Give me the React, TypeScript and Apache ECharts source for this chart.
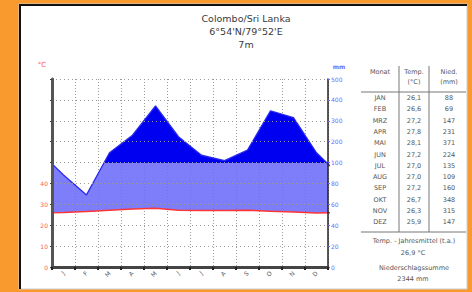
import React, { useEffect, useRef } from "react";
import * as echarts from "echarts";

const monthLetters = ["J", "F", "M", "A", "M", "J", "J", "A", "S", "O", "N", "D"];
const monthNames = ["JAN", "FEB", "MRZ", "APR", "MAI", "JUN", "JUL", "AUG", "SEP", "OKT", "NOV", "DEZ"];
const temps = [26.1, 26.6, 27.2, 27.8, 28.1, 27.2, 27.0, 27.0, 27.2, 26.7, 26.3, 25.9];
const precip = [88, 69, 147, 231, 371, 224, 135, 109, 160, 348, 315, 147];
const tempTicks = [0, 10, 20, 30, 40];
const precipTicks = [0, 20, 40, 60, 80, 100, 200, 300, 400, 500];
const titleLines = ["Colombo/Sri Lanka", "6°54'N/79°52'E", "7m"];

// Walter-Lieth scale: 10 °C = 20 mm up to 100 mm, above that 10 °C = 100 mm
const toUnit = (mm: number) => (mm <= 100 ? mm / 2 : 50 + (mm - 100) / 10);
const Y_MAX = 90;
const Y_BREAK = 50;

const wrapSeries = (vals: number[]) => {
  const pts: number[][] = [[-0.5, vals[vals.length - 1]]];
  vals.forEach((v, i) => pts.push([i + 0.5, v]));
  pts.push([vals.length + 0.5, vals[0]]);
  return pts;
};

const fmt = (v: number) => v.toFixed(1).replace(".", ",");

export default function App() {
  const ref = useRef<HTMLDivElement>(null);
  useEffect(() => {
    if (!ref.current) return;
    const chart = echarts.init(ref.current, null, { renderer: "svg" });
    const tableFont = "DejaVu Sans";
    const tx = (text: string, x: number, y: number, opts: any = {}) => ({
      type: "text",
      x,
      y,
      z: 20,
      style: {
        text,
        fill: opts.fill || "#555",
        font: `${opts.weight || "normal"} ${opts.size || 6.5}px ${opts.family || tableFont}`,
        textAlign: opts.align || "center",
        textVerticalAlign: "middle",
      },
    });
    const ln = (x1: number, y1: number, x2: number, y2: number, stroke = "#777", w = 1) => ({
      type: "line",
      z: 20,
      shape: { x1, y1, x2, y2 },
      style: { stroke, lineWidth: w },
    });

    const annualMean = temps.reduce((a, b) => a + b, 0) / temps.length;
    const totalPrecip = precip.reduce((a, b) => a + b, 0);

    const tempPts = wrapSeries(temps);
    const precipPts = wrapSeries(precip.map(toUnit));

    const graphics: any[] = [
      { type: "rect", z: -10, shape: { x: 19, y: 4, width: 448, height: 285 }, style: { fill: "#ffffff", stroke: "#cfcfcf", lineWidth: 1 } },
      { type: "line", z: -9, shape: { x1: 20, y1: 4, x2: 20, y2: 289 }, style: { stroke: "#111", lineWidth: 2 } },
      { type: "line", z: -9, shape: { x1: 19, y1: 5, x2: 467, y2: 5 }, style: { stroke: "#111", lineWidth: 2 } },
      ...titleLines.map((t, i) => tx(t, 246, 18 + i * 13, { size: 9.5, family: "DejaVu Sans", fill: "#3a3a3a" })),
      tx("°C", 42, 65, { size: 7, family: "DejaVu Sans", fill: "#ff5a5a" }),
      tx("mm", 339, 66, { size: 6, family: "DejaVu Sans", fill: "#6b6bff", weight: "bold" }),
      tx("Monat", 380, 72),
      tx("Temp.", 414, 72),
      tx("(°C)", 414, 82),
      tx("Nied.", 449, 72),
      tx("(mm)", 449, 82),
      ln(399, 66, 399, 232),
      ln(429, 66, 429, 232),
      ln(361, 92, 466, 92),
      ln(361, 232, 466, 232),
      ...monthNames.flatMap((m, i) => {
        const y = 98 + i * 11.3;
        return [tx(m, 380, y), tx(fmt(temps[i]), 414, y), tx(String(precip[i]), 449, y)];
      }),
      tx("Temp. - Jahresmittel (t.a.)", 414, 241),
      tx(`${fmt(annualMean)} °C`, 413, 253),
      tx("Niederschlagssumme", 414, 268),
      tx(`${totalPrecip} mm`, 413, 279),
    ];

    const renderHumid = (params: any, api: any) => {
      if (params.dataIndex !== 0) return null;
      const top = precipPts.map((p) => api.coord(p));
      const bottom = tempPts.map((p) => api.coord(p)).reverse();
      const yTop = api.coord([0, Y_MAX])[1];
      const yBottom = api.coord([0, 0])[1];
      const off = (Y_MAX - Y_BREAK) / Y_MAX;
      const dark = "#0000f0";
      const light = "rgba(108,108,250,0.88)";
      const cs = params.coordSys;
      return {
        type: "group",
        clipPath: { type: "rect", shape: { x: cs.x, y: cs.y, width: cs.width, height: cs.height } },
        children: [
          {
            type: "polygon",
            shape: { points: top.concat(bottom) },
            style: {
              fill: new echarts.graphic.LinearGradient(
                0, yTop, 0, yBottom,
                [
                  { offset: 0, color: dark },
                  { offset: off, color: dark },
                  { offset: off, color: light },
                  { offset: 1, color: light },
                ],
                true
              ),
              stroke: "none",
            },
          },
        ],
      };
    };

    const option: any = {
      animation: false,
      backgroundColor: "#f99a2f",
      grid: { left: 52, right: 144, top: 79, bottom: 25, containLabel: false },
      xAxis: [
        {
          type: "value",
          min: 0,
          max: 12,
          interval: 1,
          z: 0,
          axisLine: { show: false },
          axisTick: { show: false },
          axisLabel: { show: false },
          splitLine: { show: true, lineStyle: { color: "#9a9a9a", type: [1, 2], width: 1 } },
        },
        {
          type: "category",
          data: monthLetters,
          boundaryGap: true,
          position: "bottom",
          z: 5,
          axisLine: { show: true, lineStyle: { color: "#444", width: 3 } },
          axisTick: { show: true, length: 3, lineStyle: { color: "#222", width: 2 } },
          axisLabel: { rotate: 45, fontSize: 6, color: "#555", margin: 5, fontFamily: "DejaVu Sans" },
          splitLine: { show: false },
        },
      ],
      yAxis: [
        {
          type: "value",
          position: "left",
          min: 0,
          max: Y_MAX,
          interval: 10,
          z: 5,
          axisLine: { show: true, lineStyle: { color: "#555", width: 3 } },
          axisTick: { show: true, length: 2, lineStyle: { color: "#444" } },
          axisLabel: {
            fontSize: 6,
            color: "#ff5a5a",
            margin: 4,
            fontFamily: "DejaVu Sans",
            formatter: (v: number) => (tempTicks.includes(v) ? String(v) : ""),
          },
          splitLine: { show: true, lineStyle: { color: "#9a9a9a", type: [1, 3], width: 1 } },
        },
        {
          type: "value",
          position: "right",
          min: 0,
          max: Y_MAX,
          interval: 10,
          z: 5,
          axisLine: { show: true, lineStyle: { color: "#222", width: 1.5 } },
          axisTick: { show: true, length: 2, lineStyle: { color: "#6b6bff" } },
          axisLabel: {
            fontSize: 6,
            color: "#6b6bff",
            margin: 3,
            fontFamily: "DejaVu Sans",
            formatter: (v: number) => {
              const t = precipTicks.find((p) => Math.abs(toUnit(p) - v) < 1e-6);
              return t === undefined ? "" : String(t);
            },
          },
          splitLine: { show: false },
        },
      ],
      series: [
        {
          type: "custom",
          name: "humid",
          xAxisIndex: 0,
          yAxisIndex: 0,
          z: 2,
          renderItem: renderHumid,
          data: precipPts,
          encode: { x: 0, y: 1 },
          silent: true,
        },
        {
          type: "line",
          name: "Niederschlag",
          xAxisIndex: 0,
          yAxisIndex: 0,
          z: 3,
          data: precipPts,
          symbol: "none",
          clip: true,
          lineStyle: { color: "#2a2aee", width: 1.3 },
        },
        {
          type: "line",
          name: "Temperatur",
          xAxisIndex: 0,
          yAxisIndex: 0,
          z: 4,
          data: tempPts,
          symbol: "none",
          clip: true,
          lineStyle: { color: "#ff3535", width: 1.5 },
        },
      ],
      graphic: graphics,
    };
    chart.setOption(option);
    return () => chart.dispose();
  }, []);
  return <div ref={ref} style={{ position: "fixed", left: 0, top: 0, width: 472, height: 292 }} />;
}
